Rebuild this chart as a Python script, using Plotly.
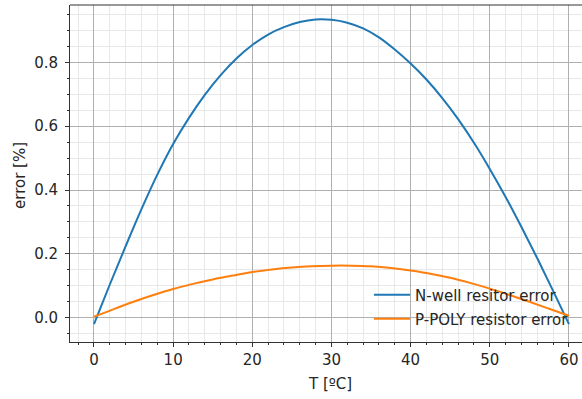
import plotly.graph_objects as go

# ---- data ----
t_nwell = [0, 2, 4, 6, 8, 10, 12, 14, 16, 18, 20, 22, 24, 26, 28, 30,
           32, 34, 36, 38, 40, 42, 44, 46, 48, 50, 52, 54, 56, 58, 60]
err_nwell = [-0.02, 0.104, 0.224, 0.340, 0.448, 0.544, 0.626, 0.698, 0.760, 0.812, 0.854,
             0.887, 0.910, 0.926, 0.934, 0.933, 0.924, 0.906, 0.878, 0.840, 0.796,
             0.746, 0.688, 0.622, 0.548, 0.466, 0.378, 0.284, 0.186, 0.084, -0.02]

t_ppoly = [0, 2.5, 5, 7.5, 10, 12.5, 15, 17.5, 20, 22.5, 25, 27.5, 30, 32.5, 35, 37.5,
           40, 42.5, 45, 47.5, 50, 52.5, 55, 57.5, 60]
err_ppoly = [0.003, 0.027, 0.05, 0.071, 0.09, 0.106, 0.12, 0.132, 0.143, 0.151, 0.157, 0.161,
             0.163, 0.163, 0.161, 0.156, 0.148, 0.138, 0.125, 0.109, 0.091, 0.071, 0.05,
             0.028, 0.006]

name_nwell = "N-well resitor error"
name_ppoly = "P-POLY resistor error"
x_title = "T [ºC]"
y_title = "error [%]"

FONT = "DejaVu Sans"
FS = 15
TXT = "#262626"
W, H = 582, 399
ML, MR, MT, MB = 70, 0, 5, 57
PW, PH = W - ML - MR, H - MT - MB

def px_x(p):
    return (p - ML) / PW

def px_y(p):
    return (H - MB - p) / PH

fig = go.Figure()
fig.add_trace(go.Scatter(x=t_nwell, y=err_nwell, mode="lines", name=name_nwell,
                         line=dict(color="#1f77b4", width=2, shape="spline", smoothing=1),
                         legend="legend"))
fig.add_trace(go.Scatter(x=t_ppoly, y=err_ppoly, mode="lines", name=name_ppoly,
                         line=dict(color="#ff7f0e", width=2, shape="spline", smoothing=1),
                         legend="legend2"))

axis_common = dict(
    showline=True, linecolor="#333333", linewidth=1,
    ticks="outside", ticklen=4, tickwidth=1, tickcolor="#333333",
    showgrid=True, gridcolor="#b0b0b0", gridwidth=1,
    zeroline=False,
    tickfont=dict(family=FONT, size=FS, color=TXT),
)

fig.update_xaxes(range=[-3.03, 61.65], tickmode="linear", tick0=0, dtick=10,
                 minor=dict(dtick=2, tick0=0, ticks="outside", ticklen=2, tickwidth=0.7,
                            tickcolor="#333333", showgrid=True, gridcolor="#e8e8e8", gridwidth=1),
                 **axis_common)
fig.update_yaxes(range=[-0.0761, 0.9795], tickmode="linear", tick0=0, dtick=0.2,
                 tickformat=".1f", ticklabelstandoff=4,
                 minor=dict(dtick=0.05, tick0=0, ticks="outside", ticklen=2, tickwidth=0.7,
                            tickcolor="#333333", showgrid=True, gridcolor="#e8e8e8", gridwidth=1),
                 **axis_common)

legend_common = dict(xanchor="left", yanchor="middle", bgcolor="rgba(0,0,0,0)",
                     borderwidth=0, itemwidth=36,
                     font=dict(family=FONT, size=FS, color=TXT))

fig.update_layout(
    width=W, height=H,
    margin=dict(l=ML, r=MR, t=MT, b=MB, pad=0),
    paper_bgcolor="white", plot_bgcolor="white",
    showlegend=True,
    legend=dict(x=px_x(369), y=px_y(295), **legend_common),
    legend2=dict(x=px_x(369), y=px_y(319), **legend_common),
    shapes=[dict(type="line", xref="paper", yref="paper", x0=0, x1=1, y0=1, y1=1,
                 line=dict(color="#333333", width=1))],
    annotations=[
        dict(text=y_title, xref="paper", yref="paper", x=px_x(20), y=px_y(176),
             showarrow=False, textangle=-90, xanchor="center", yanchor="middle",
             font=dict(family=FONT, size=FS, color=TXT)),
        dict(text=x_title, xref="paper", yref="paper", x=px_x(330), y=px_y(384),
             showarrow=False, xanchor="center", yanchor="middle",
             font=dict(family=FONT, size=FS, color=TXT)),
    ],
)

fig.write_html("out.html")
